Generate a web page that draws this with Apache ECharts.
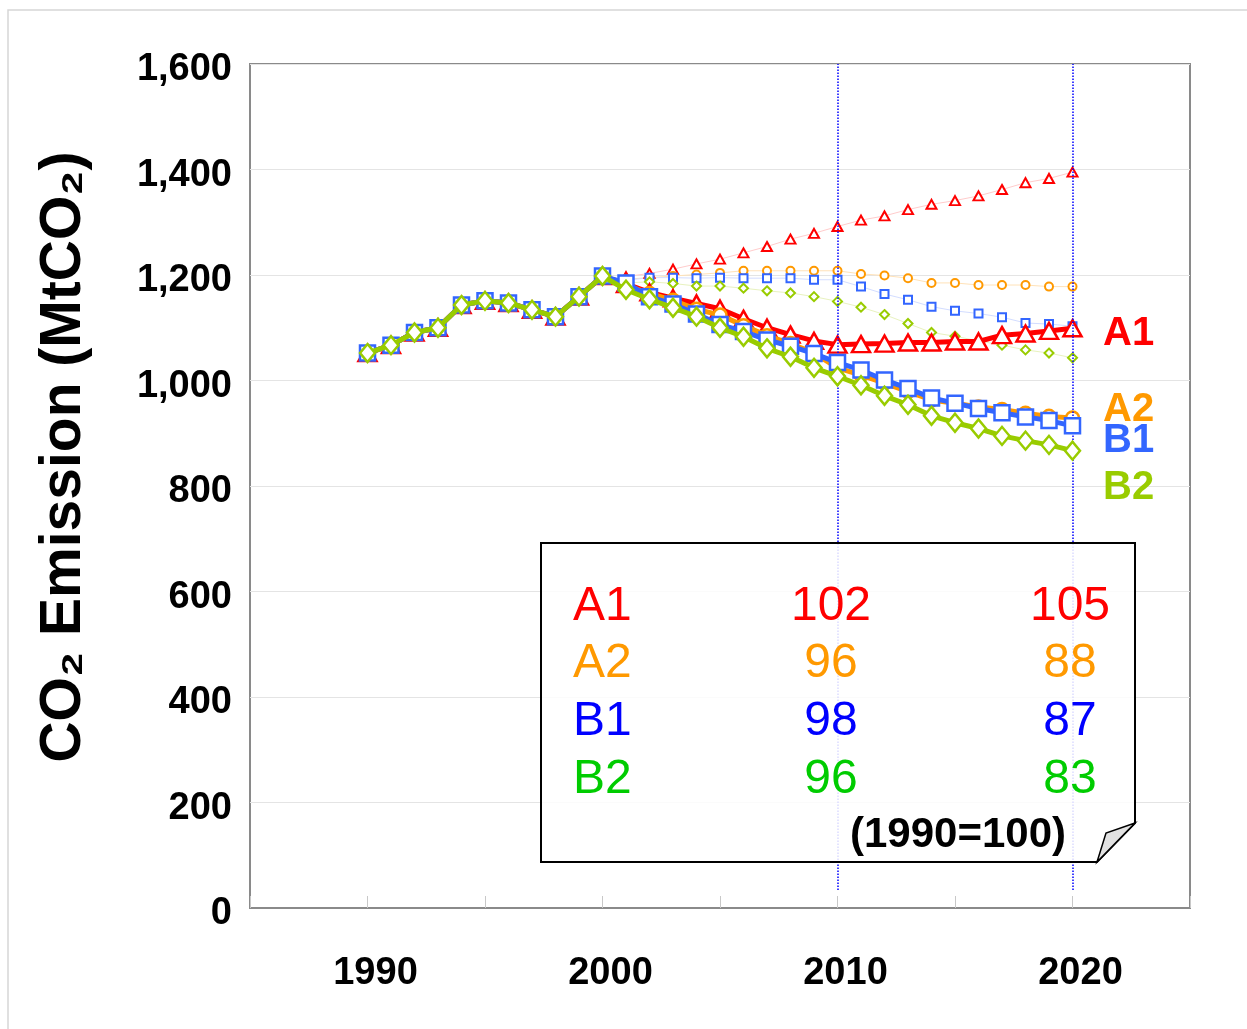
<!DOCTYPE html>
<html>
<head>
<meta charset="utf-8">
<script src="https://cdn.jsdelivr.net/npm/echarts@6/dist/echarts.min.js"></script>
<style>
html,body{margin:0;padding:0;background:#fff;}
#chart{width:1247px;height:1029px;}
</style>
</head>
<body>
<div id="chart"></div>
<script>
// ---- data ----
const years = [1990,1991,1992,1993,1994,1995,1996,1997,1998,1999,2000,2001,2002,2003,2004,2005,2006,2007,2008,2009,2010,2011,2012,2013,2014,2015,2016,2017,2018,2019,2020];
const historical = [1052,1067,1091,1100,1143,1151,1147,1134,1121,1159,1198];
// projections 2001-2020 (solid)
const a1 = [1183,1167,1156,1146,1136,1117,1100,1087,1075,1068,1069,1070,1072,1072,1074,1074,1086,1089,1094,1099];
const a2 = [1180,1165,1152,1135,1124,1104,1085,1070,1052,1024,1010,995,979,963,957,950,945,938,932,929];
const b1 = [1185,1159,1145,1126,1106,1093,1077,1065,1051,1034,1020,1001,985,967,957,947,939,931,924,914];
const b2 = [1172,1154,1138,1121,1100,1083,1061,1045,1024,1008,991,971,954,933,920,909,895,886,878,867];
// reference scenarios 2001-2020 (dotted)
const a1ref = [1197,1203,1211,1221,1230,1242,1254,1268,1279,1292,1304,1312,1324,1334,1341,1350,1362,1375,1383,1395];
const a2ref = [1192,1195,1198,1201,1204,1208,1208,1208,1208,1208,1202,1199,1194,1185,1185,1181,1181,1181,1178,1178];
const b1ref = [1190,1195,1195,1194,1195,1194,1194,1194,1191,1191,1178,1164,1153,1140,1132,1127,1120,1109,1107,1103];
const b2ref = [1185,1187,1184,1179,1179,1175,1170,1166,1159,1150,1139,1125,1108,1091,1084,1075,1067,1058,1052,1043];
const markYears = [2010, 2020];
const scenarioNames = ['A1','A2','B1','B2'];
const index2010 = [102, 96, 98, 96];
const index2020 = [105, 88, 87, 83];
const yTicks = [0,200,400,600,800,1000,1200,1400,1600];

// ---- helpers ----
const colors = {A1:'#ff0000', A2:'#ff9900', B1:'#3366ff', B2:'#99cc00'};
const faint = {A1:'#ffcccc', A2:'#ffe2b8', B1:'#d3ddff', B2:'#e8f2bf'};
const tableColors = ['#ff0000','#ff9900','#0000ff','#00cc00'];
const symbols = {A1:'triangle', A2:'circle', B1:'rect', B2:'diamond'};
const projYears = years.slice(11);

function fullSeries(proj){
  return years.map((y,i)=>[y, i<=10 ? historical[i] : proj[i-11]]);
}
function refSeries(vals){
  return projYears.map((y,i)=>[y, vals[i]]);
}

const solidSizes = {A1:[18,16], A2:[13,13], B1:[15,15], B2:[15,18]};
const refSizes = {A1:[10,9], A2:[8,8], B1:[8,8], B2:[9,9]};

const series = [];
const refs = {A1:a1ref, A2:a2ref, B1:b1ref, B2:b2ref};
const sols = {A1:a1, A2:a2, B1:b1, B2:b2};
scenarioNames.forEach(n=>{
  series.push({
    name:n+' ref', type:'line', data: refSeries(refs[n]),
    symbol: symbols[n], symbolSize: refSizes[n], showAllSymbol:true,
    lineStyle:{color:faint[n], width:1},
    itemStyle:{color:'#fff', borderColor:colors[n], borderWidth:2},
    z:2, animation:false
  });
});
scenarioNames.forEach((n,k)=>{
  series.push({
    name:n, type:'line', data: fullSeries(sols[n]),
    symbol: symbols[n], symbolSize: solidSizes[n], showAllSymbol:true,
    lineStyle:{color:colors[n], width:5},
    itemStyle:{color:'#fff', borderColor:colors[n], borderWidth:2.5},
    z:3+k, animation:false
  });
});
// vertical dotted marker lines
series.push({
  type:'line', data:[], z:8, animation:false,
  markLine:{
    silent:true, symbol:['none','none'], label:{show:false},
    lineStyle:{type:'dotted', color:'#0000ff', width:1.5},
    data: markYears.map(y=>[{coord:[y,34]},{coord:[y,1600]}])
  }
});

const graphic = [
  {type:'rect', shape:{x:8,y:10,width:1280,height:1060}, style:{fill:'none', stroke:'#d6d6d6', lineWidth:1.5}, z:-10, silent:true},
  {type:'text', x:64, y:457, rotation:Math.PI/2,
   style:{text:'CO\u2082 Emission (MtCO\u2082)', fontSize:57, fontWeight:'bold', fontFamily:'"Liberation Sans", Arial, sans-serif',
          fill:'#000', align:'center', verticalAlign:'middle'}},
  {type:'text', x:1103, y:334, style:{text:'A1', fontSize:40, fontWeight:'bold', fontFamily:'"Liberation Sans", Arial', fill:colors.A1, align:'left', verticalAlign:'middle'}, z:20},
  {type:'text', x:1103, y:410, style:{text:'A2', fontSize:40, fontWeight:'bold', fontFamily:'"Liberation Sans", Arial', fill:colors.A2, align:'left', verticalAlign:'middle'}, z:20},
  {type:'text', x:1103, y:441, style:{text:'B1', fontSize:40, fontWeight:'bold', fontFamily:'"Liberation Sans", Arial', fill:colors.B1, align:'left', verticalAlign:'middle'}, z:21},
  {type:'text', x:1103, y:488, style:{text:'B2', fontSize:40, fontWeight:'bold', fontFamily:'"Liberation Sans", Arial', fill:colors.B2, align:'left', verticalAlign:'middle'}, z:20},
  {type:'polygon', shape:{points:[[541,543],[1135,543],[1135,823],[1097,862],[541,862]]},
   style:{fill:'rgba(255,255,255,0.86)', stroke:'#000', lineWidth:2}, z:50},
  {type:'polygon', shape:{points:[[1135,823],[1106,833],[1097,862]]},
   style:{fill:'#e2e2e2', stroke:'#000', lineWidth:1.5}, z:51}
];
const rowY = [607, 664, 722, 780];
scenarioNames.forEach((n,i)=>{
  const base = {fontSize:48, fontFamily:'"Liberation Sans", Arial', fill:tableColors[i], verticalAlign:'middle'};
  graphic.push({type:'text', x:573, y:rowY[i], z:55, style:Object.assign({text:n, align:'left'}, base)});
  graphic.push({type:'text', x:831, y:rowY[i], z:55, style:Object.assign({text:String(index2010[i]), align:'center'}, base)});
  graphic.push({type:'text', x:1070, y:rowY[i], z:55, style:Object.assign({text:String(index2020[i]), align:'center'}, base)});
});
graphic.push({type:'text', x:958, y:835, z:55, style:{text:'(1990=100)', fontSize:42, fontWeight:'bold', fontFamily:'"Liberation Sans", Arial', fill:'#000', align:'center', verticalAlign:'middle'}});

const chart = echarts.init(document.getElementById('chart'), null, {renderer:'canvas'});
chart.setOption({
  animation:false,
  backgroundColor:'#fff',
  grid:{left:250, top:64, width:940, height:844, show:true, borderColor:'#8a8a8a', borderWidth:2, backgroundColor:'transparent', containLabel:false},
  xAxis:{
    type:'value', min:1985, max:2025, interval:5,
    axisLine:{show:true, lineStyle:{color:'#8a8a8a', width:2}},
    axisTick:{show:true, inside:true, length:12, lineStyle:{color:'#c8c8c8', width:1}},
    splitLine:{show:false},
    axisLabel:{
      margin:47, fontSize:38, fontWeight:'bold', fontFamily:'"Liberation Sans", Arial', color:'#000',
      padding:[0,0,0,16],
      formatter: v => (v % 10 === 0 && v >= 1990 && v <= 2020) ? String(v) : ''
    }
  },
  yAxis:{
    type:'value', min:0, max:1600, interval:200,
    axisLine:{show:false}, axisTick:{show:false},
    splitLine:{show:true, lineStyle:{color:'#e4e4e4', width:1}},
    axisLabel:{
      margin:18, color:'#000',
      formatter: v => yTicks.indexOf(v) >= 0 ? '{a|' + v.toLocaleString('en-US') + '}' : '',
      rich:{a:{fontSize:38, fontWeight:'bold', fontFamily:'"Liberation Sans", Arial', color:'#000', padding:[12,0,0,0]}}
    }
  },
  series: series,
  graphic: graphic
});
</script>
</body>
</html>
